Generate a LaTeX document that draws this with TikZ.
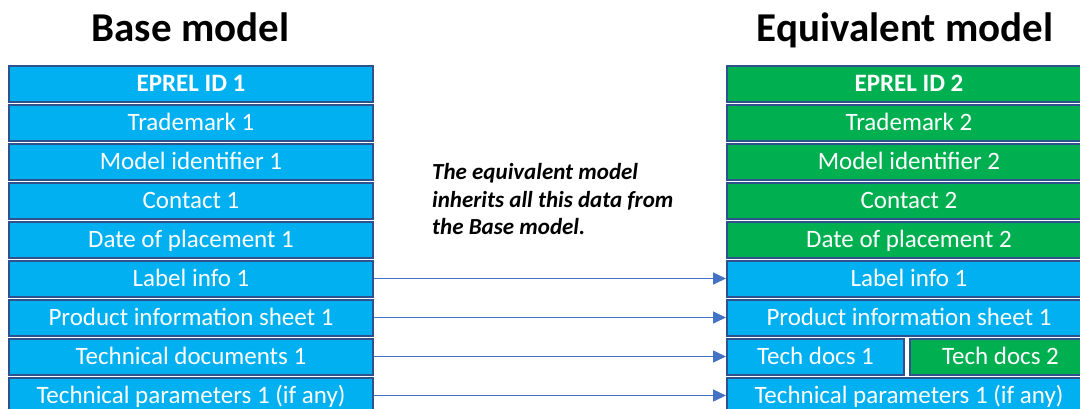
\documentclass[tikz,border=0pt]{standalone}
\usepackage{fontspec}
\setmainfont{Carlito}
\usetikzlibrary{arrows.meta}
\definecolor{fillblue}{HTML}{00B0F0}
\definecolor{fillgreen}{HTML}{00B050}
\definecolor{edgeblue}{HTML}{2F528F}
\definecolor{arrowblue}{HTML}{4472C4}
\tikzset{
  rowbox/.style={draw=edgeblue, line width=2pt, text=white, font=\fontsize{25}{30}\selectfont,
    minimum height=36pt, inner sep=0pt, anchor=north west, text height=15.8pt, text depth=0pt},
  bluebox/.style={rowbox, fill=fillblue},
  greenbox/.style={rowbox, fill=fillgreen},
  boldrow/.style={font=\fontsize{25}{30}\selectfont\bfseries},
  wide/.style={minimum width=364pt},
  half/.style={minimum width=177pt},
  title/.style={font=\fontsize{41}{48}\selectfont\bfseries, text=black, inner sep=0pt, anchor=base},
  note/.style={font=\fontsize{23}{27.5}\selectfont\bfseries\itshape, align=left, anchor=north west, inner sep=0pt},
  arr/.style={draw=arrowblue, line width=1.5pt, -{Triangle[length=13pt,width=12pt]}}
}
\begin{document}
\begin{tikzpicture}[x=1pt,y=-1pt]
\useasboundingbox (0,0) rectangle (1080,408);
\clip (0,0) rectangle (1080,408);
% titles
\node[title] (t1) at (190.5,41.7) {Base model};
\node[title] (t2) at (905,41.7) {Equivalent model};
% left column
\node[bluebox,wide,boldrow] (l1) at (8,64.5) {EPREL ID 1};
\node[bluebox,wide] (l2) at (8,103.5) {Trademark 1};
\node[bluebox,wide] (l3) at (8,142.5) {Model identifier 1};
\node[bluebox,wide] (l4) at (8,181.5) {Contact 1};
\node[bluebox,wide] (l5) at (8,220.5) {Date of placement 1};
\node[bluebox,wide] (l6) at (8,259.5) {Label info 1};
\node[bluebox,wide] (l7) at (8,298.5) {Product information sheet 1};
\node[bluebox,wide] (l8) at (8,337.5) {Technical documents 1};
\node[bluebox,wide] (l9) at (8,376.5) {Technical parameters 1 (if any)};
% right column
\node[greenbox,wide,boldrow] (r1) at (726,64.5) {EPREL ID 2};
\node[greenbox,wide] (r2) at (726,103.5) {Trademark 2};
\node[greenbox,wide] (r3) at (726,142.5) {Model identifier 2};
\node[greenbox,wide] (r4) at (726,181.5) {Contact 2};
\node[greenbox,wide] (r5) at (726,220.5) {Date of placement 2};
\node[bluebox,wide] (r6) at (726,259.5) {Label info 1};
\node[bluebox,wide] (r7) at (726,298.5) {Product information sheet 1};
\node[bluebox,half] (r8a) at (726,337.5) {Tech docs 1};
\node[greenbox,minimum width=181pt] (r8b) at (909,337.5) {Tech docs 2};
\node[bluebox,wide] (r9) at (726,376.5) {Technical parameters 1 (if any)};
% note
\node[note] (n) at (432,163.5) {The equivalent model\\inherits all this data from\\the Base model.};
% arrows
\draw[arr] (l6.east) -- (r6.west);
\draw[arr] (l7.east) -- (r7.west);
\draw[arr] (l8.east) -- (r8a.west);
\draw[arr] (l9.east) -- (r9.west);
\end{tikzpicture}
\end{document}
